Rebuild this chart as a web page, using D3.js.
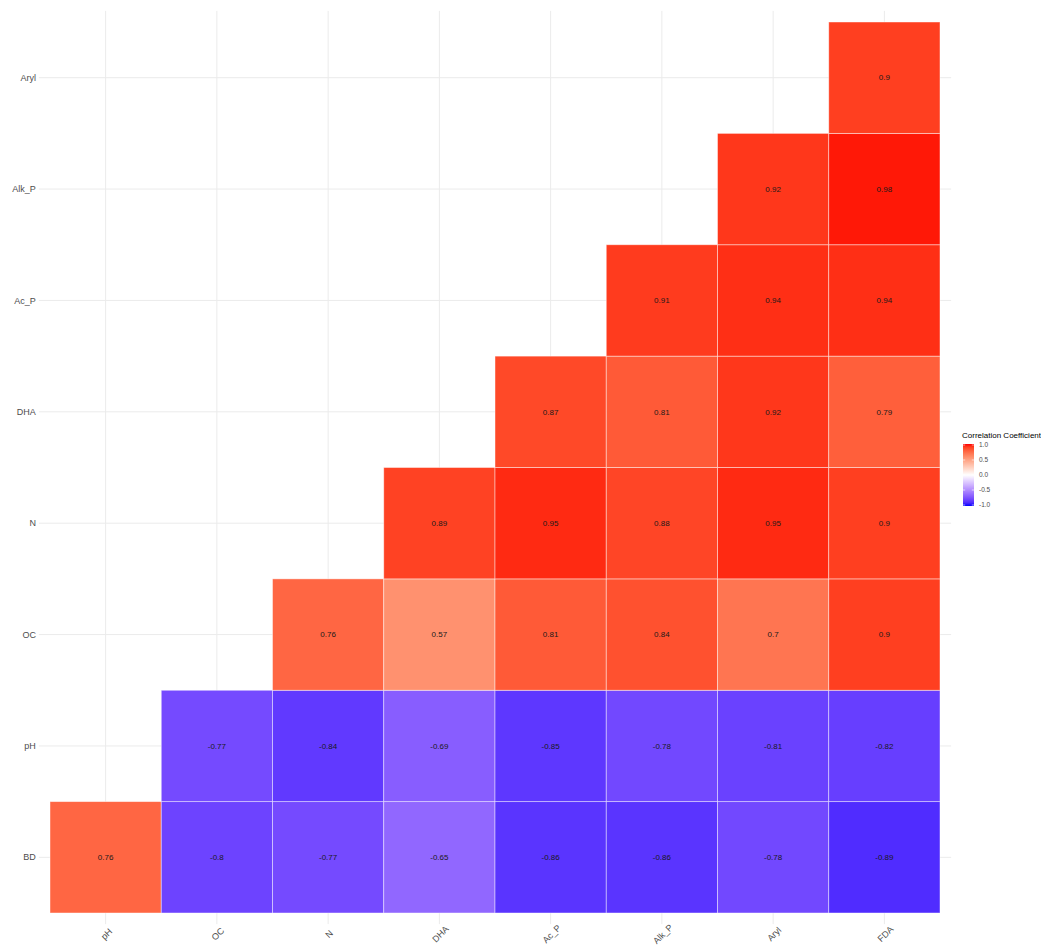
<!DOCTYPE html>
<html>
<head>
<meta charset="utf-8">
<script src="https://cdn.jsdelivr.net/npm/d3@7"></script>
<style>
  html, body { margin: 0; padding: 0; background: #fff; }
  svg { display: block; font-family: "Liberation Sans", Arial, sans-serif; }
</style>
</head>
<body>
<svg id="chart" width="1041" height="945"></svg>
<script>
// Column (x) and row (y) variables of the correlation matrix
const xVars = ["pH", "OC", "N", "DHA", "Ac_P", "Alk_P", "Aryl", "FDA"];
const yVars = ["BD", "pH", "OC", "N", "DHA", "Ac_P", "Alk_P", "Aryl"]; // bottom to top

// Correlation values per row, ordered as xVars (null = not shown)
const rowBD    = [0.76, -0.8, -0.77, -0.65, -0.86, -0.86, -0.78, -0.89];
const rowPH    = [null, -0.77, -0.84, -0.69, -0.85, -0.78, -0.81, -0.82];
const rowOC    = [null, null, 0.76, 0.57, 0.81, 0.84, 0.7, 0.9];
const rowN     = [null, null, null, 0.89, 0.95, 0.88, 0.95, 0.9];
const rowDHA   = [null, null, null, null, 0.87, 0.81, 0.92, 0.79];
const rowAcP   = [null, null, null, null, null, 0.91, 0.94, 0.94];
const rowAlkP  = [null, null, null, null, null, null, 0.92, 0.98];
const rowAryl  = [null, null, null, null, null, null, null, 0.9];

const legendTicks = [1.0, 0.5, 0.0, -0.5, -1.0];
const legendTitle = "Correlation Coefficient";

const rows = [rowBD, rowPH, rowOC, rowN, rowDHA, rowAcP, rowAlkP, rowAryl];
const cells = [];
rows.forEach((vals, ri) => vals.forEach((v, ci) => {
  if (v !== null) cells.push({ x: xVars[ci], y: yVars[ri], value: v });
}));

const svg = d3.select("#chart");

// Tile area and panel (panel extends 0.1 band beyond tiles on each side)
const tileLeft = 50, tileRight = 940, tileTop = 22, tileBottom = 913;
const x = d3.scaleBand().domain(xVars).range([tileLeft, tileRight]);
const y = d3.scaleBand().domain(yVars).range([tileBottom, tileTop]);
const padX = x.bandwidth() * 0.1, padY = y.bandwidth() * 0.1;
const panel = { l: tileLeft - padX, r: tileRight + padX, t: tileTop - padY, b: tileBottom + padY };

// Diverging blue–white–red fill
const posScale = d3.interpolateLab("#ffffff", "#ff0000");
const negScale = d3.interpolateLab("#ffffff", "#0000ff");
const fill = v => v >= 0 ? posScale(Math.min(v, 1)) : negScale(Math.min(-v, 1));

// Grid lines at category centres
const grid = svg.append("g").attr("stroke", "#ebebeb").attr("stroke-width", 1);
xVars.forEach(d => {
  const cx = x(d) + x.bandwidth() / 2;
  grid.append("line").attr("x1", cx).attr("x2", cx).attr("y1", panel.t).attr("y2", panel.b);
});
yVars.forEach(d => {
  const cy = y(d) + y.bandwidth() / 2;
  grid.append("line").attr("x1", panel.l).attr("x2", panel.r).attr("y1", cy).attr("y2", cy);
});

// Tiles
svg.append("g").selectAll("rect").data(cells).join("rect")
  .attr("x", d => x(d.x))
  .attr("y", d => y(d.y))
  .attr("width", x.bandwidth())
  .attr("height", y.bandwidth())
  .attr("fill", d => fill(d.value))
  .attr("stroke", "#ffffff")
  .attr("stroke-opacity", 0.55)
  .attr("stroke-width", 0.8);

// Value labels
svg.append("g").selectAll("text").data(cells).join("text")
  .attr("x", d => x(d.x) + x.bandwidth() / 2)
  .attr("y", d => y(d.y) + y.bandwidth() / 2)
  .attr("text-anchor", "middle")
  .attr("dy", "0.35em")
  .attr("font-size", 8)
  .attr("fill", "#1a1a1a")
  .text(d => String(d.value));

// Y axis labels
svg.append("g").selectAll("text").data(yVars).join("text")
  .attr("x", panel.l - 3)
  .attr("y", d => y(d) + y.bandwidth() / 2)
  .attr("text-anchor", "end")
  .attr("dy", "0.35em")
  .attr("font-size", 9)
  .attr("fill", "#4d4d4d")
  .text(d => d);

// X axis labels, rotated 45°
svg.append("g").selectAll("text").data(xVars).join("text")
  .attr("transform", d => `translate(${x(d) + x.bandwidth() / 2 + 1},934) rotate(-45)`)
  .attr("text-anchor", "middle")
  .attr("dy", "0.35em")
  .attr("font-size", 9)
  .attr("fill", "#4d4d4d")
  .text(d => d);

// Colour bar legend
const barX = 963, barW = 11, barTop = 444, barBottom = 506;
const ly = d3.scaleLinear().domain([1, -1]).range([barTop + 1, barBottom - 1]);
const defs = svg.append("defs");
const grad = defs.append("linearGradient").attr("id", "cbar")
  .attr("x1", 0).attr("x2", 0).attr("y1", 0).attr("y2", 1);
d3.range(0, 1.0001, 0.05).forEach(t => {
  const v = 1 - 2 * t;
  grad.append("stop").attr("offset", t).attr("stop-color", fill(v));
});

svg.append("text")
  .attr("x", barX - 1).attr("y", barTop - 6)
  .attr("font-size", 8).attr("fill", "#000")
  .text(legendTitle);

svg.append("rect")
  .attr("x", barX).attr("y", barTop)
  .attr("width", barW).attr("height", barBottom - barTop)
  .attr("fill", "url(#cbar)");

const lt = svg.append("g");
legendTicks.forEach(v => {
  const ty = ly(v);
  lt.append("line").attr("x1", barX).attr("x2", barX + 2.2).attr("y1", ty).attr("y2", ty)
    .attr("stroke", "#fff").attr("stroke-width", 0.6);
  lt.append("line").attr("x1", barX + barW - 2.2).attr("x2", barX + barW).attr("y1", ty).attr("y2", ty)
    .attr("stroke", "#fff").attr("stroke-width", 0.6);
  lt.append("text")
    .attr("x", barX + barW + 5).attr("y", ty).attr("dy", "0.35em")
    .attr("font-size", 6.5).attr("fill", "#4d4d4d")
    .text(v.toFixed(1));
});
</script>
</body>
</html>
